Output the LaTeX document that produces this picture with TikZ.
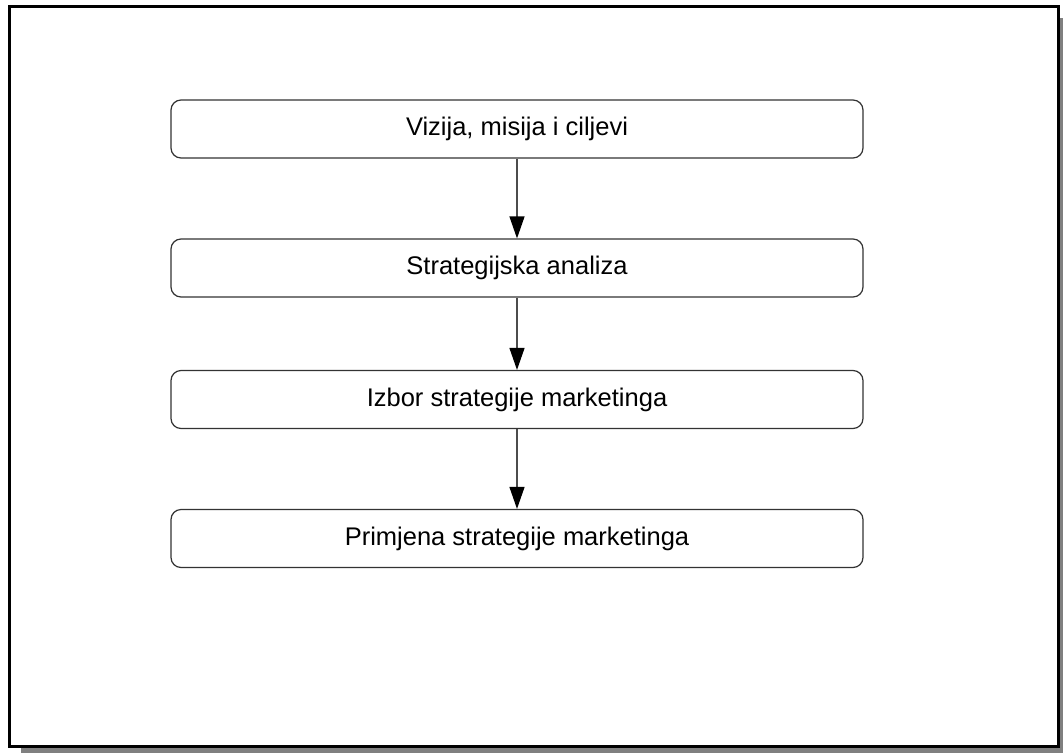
\documentclass[tikz,border=0pt]{standalone}
\usepackage{fontspec}
\setmainfont{Liberation Sans}
\usetikzlibrary{arrows.meta}
\begin{document}
\begin{tikzpicture}[x=1pt,y=-1pt,
  stepbox/.style={draw=black!80, line width=1.2pt, rounded corners=10pt,
    minimum width=692pt, minimum height=58pt, inner sep=0pt,
    font=\fontsize{25.5}{30}\selectfont},
  link/.style={draw=black!70, line width=1.2pt, -{Triangle[length=22pt,width=15pt,color=black]}},
  frame/.style={line width=3pt, draw=black, fill=white},
  shade/.style={fill=black!50}]
\useasboundingbox (0,0) rectangle (1063,753);
\fill[shade] (21,18) rectangle (1063,753);
\draw[frame] (9.5,6.5) rectangle (1058,746);
\node[stepbox] (a) at (517,129) {Vizija, misija i ciljevi};
\node[stepbox] (b) at (517,268) {Strategijska analiza};
\node[stepbox] (c) at (517,399.5) {Izbor strategije marketinga};
\node[stepbox] (d) at (517,538.5) {Primjena strategije marketinga};
\draw[link] (a) -- (b);
\draw[link] (b) -- (c);
\draw[link] (c) -- (d);
\end{tikzpicture}
\end{document}
